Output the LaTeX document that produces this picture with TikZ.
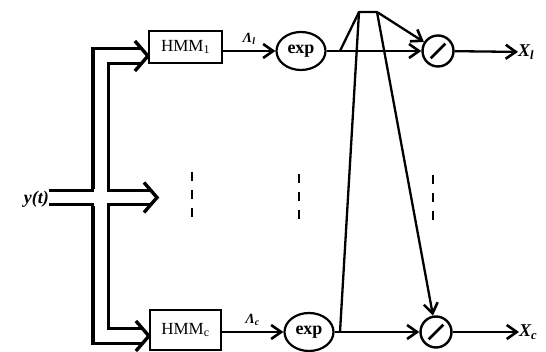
\documentclass[tikz,border=0pt]{standalone}
\usepackage{fontspec}
\setmainfont{Liberation Serif}
\usetikzlibrary{arrows.meta,shapes.geometric,calc}
\newcommand\mychev[1]{\draw[chev] ($(#1)+(-13,15)$) -- (#1) -- ($(#1)+(-13,-15)$);}
\begin{document}
\begin{tikzpicture}[x=1pt,y=1pt,
 box/.style={draw, line width=2.2pt, minimum width=73pt, minimum height=32pt, inner sep=0pt, font=\fontsize{17}{19}\selectfont},
 expn/.style={draw, ellipse, line width=2.2pt, minimum width=49pt, minimum height=38pt, inner sep=0pt, font=\bfseries\fontsize{18}{20}\selectfont},
 divn/.style={draw, circle, line width=2.4pt, minimum size=31pt, inner sep=0pt},
 sig/.style={line width=2.3pt},
 arr/.style={sig, -{Straight Barb[length=10pt,width=14pt,line width=2.6pt]}},
 bus/.style={line width=3.4pt, double, double distance=12pt},
 bush/.style={line width=3.2pt, double, double distance=10.5pt},
 chev/.style={line width=3.4pt, line join=miter},
 dots/.style={line width=2pt, dash pattern=on 9pt off 9pt},
 lbl/.style={font=\bfseries\itshape\fontsize{18}{20}\selectfont, inner sep=0pt},
 slbl/.style={font=\bfseries\itshape\fontsize{14}{16}\selectfont, inner sep=0pt}
]
\useasboundingbox (0,0) rectangle (546,352);
% blocks
\node[box] (hmm1) at (185.5,305) {HMM\textsubscript{1}};
\node[box, minimum width=71pt, minimum height=40pt] (hmmc) at (185.5,22) {HMM\textsubscript{c}};
\node[expn] (e1) at (301,301) {exp};
\node[expn] (ec) at (309,20) {exp};
\node[divn] (d1) at (438,301) {};
\node[divn] (dc) at (436,20) {};
\draw[line width=2.8pt] ($(d1.center)!0.62!(d1.225)$) -- ($(d1.center)!0.62!(d1.45)$);
\draw[line width=2.8pt] ($(dc.center)!0.62!(dc.225)$) -- ($(dc.center)!0.62!(dc.45)$);
% outputs
\node[lbl, anchor=west] (xl) at (518,300) {X\textsubscript{l}};
\node[lbl, anchor=west] (xc) at (519,20) {X\textsubscript{c}};
% input
\node[lbl, anchor=east] (y) at (49,153) {y(t)};
\coordinate (t1) at ([yshift=-9pt]hmm1.west);
\coordinate (tc) at ([yshift=-6pt]hmmc.west);
\coordinate (m) at (157,154.5);
% bus
\draw[bus] ([xshift=-7.5pt]t1) -- (100.5,296) -- (100.5,16) -- ([xshift=-7.5pt]tc);
\draw[bush] (y.east |- m) -- ([xshift=-6.5pt]m);
\fill[white] (94.3,146) rectangle (106.7,163);
\mychev{t1}
\mychev{tc}
\mychev{m}
% signal arrows
\draw[arr] ([yshift=-4pt]hmm1.east) -- (e1.west) node[slbl, midway, above=5pt] {Λ\textsubscript{l}};
\draw[arr] ([yshift=-2pt]hmmc.east) -- (ec.west) node[slbl, midway, above=5pt] {Λ\textsubscript{c}};
\draw[arr] (e1) -- (d1);
\draw[arr] (ec) -- (dc);
\draw[arr] (d1) -- (xl);
\draw[arr] (dc) -- (xc);
% cross connections
\coordinate (j1) at (340,301);
\coordinate (j2) at (340,20);
\coordinate (a) at (359,340);
\coordinate (b) at (377,340);
\draw[sig, line join=round] (j1) -- (a) -- (b);
\draw[sig] (j2) -- (a);
\draw[arr] (b) -- (d1);
\draw[arr] (b) -- (dc);
% dots
\draw[dots] (192,180) -- (192,135);
\draw[dots] (299,178) -- (299,133);
\draw[dots] (433,177) -- (433,132);
\end{tikzpicture}
\end{document}
